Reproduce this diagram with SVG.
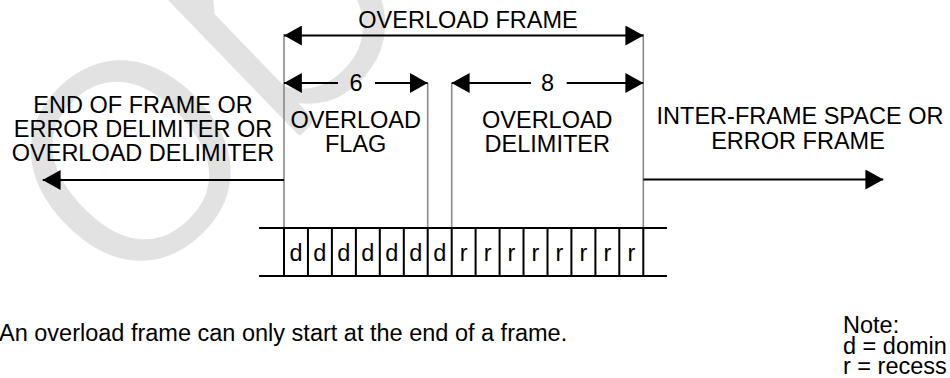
<svg xmlns="http://www.w3.org/2000/svg" width="950" height="378" viewBox="0 0 950 378">
<style>
.t{font-family:"Liberation Sans",Arial,sans-serif;font-size:23.5px;fill:#000}
.m{text-anchor:middle}
.wm{font-family:Lato,"Liberation Sans",sans-serif;font-weight:300;font-size:390px;fill:#e2e2e2;stroke:#e2e2e2;stroke-width:5;stroke-linejoin:round}
.g{stroke:#8a8a8a;stroke-width:1.6;fill:none}
.a{stroke:#000;stroke-width:2;fill:none}
.c{stroke:#000;stroke-width:2;fill:none}
</style>
<defs>
<marker id="ah" markerUnits="userSpaceOnUse" markerWidth="18" markerHeight="20" viewBox="0 0 17 19" refX="17" refY="9.5" orient="auto-start-reverse">
<path d="M0,0 L17,9.5 L0,19 z" fill="#000"/>
</marker>
</defs>
<rect width="950" height="378" fill="#fff"/>
<text class="wm" transform="translate(120,306) rotate(-44)" x="0" y="0">ob</text>

<g id="connectors">
<line class="g" x1="284" y1="34" x2="284" y2="228"/>
<line class="g" x1="427.7" y1="83" x2="427.7" y2="228"/>
<line class="g" x1="451.7" y1="83" x2="451.7" y2="228"/>
<line class="g" x1="643.3" y1="34" x2="643.3" y2="228"/>
<line class="a" x1="284" y1="35.5" x2="643.3" y2="35.5" marker-start="url(#ah)" marker-end="url(#ah)"/>
<line class="a" x1="284" y1="83" x2="338" y2="83" marker-start="url(#ah)"/>
<line class="a" x1="375" y1="83" x2="427.7" y2="83" marker-end="url(#ah)"/>
<line class="a" x1="451.7" y1="83" x2="531" y2="83" marker-start="url(#ah)"/>
<line class="a" x1="566.7" y1="83" x2="643.3" y2="83" marker-end="url(#ah)"/>
<line class="a" x1="284" y1="180" x2="42.7" y2="180" marker-end="url(#ah)"/>
<line class="a" x1="643.3" y1="179.5" x2="883.3" y2="179.5" marker-end="url(#ah)"/>
</g>

<g id="overload-frame">
<text class="t m" x="468" y="28">OVERLOAD FRAME</text>
</g>
<g id="count-6"><text class="t m" x="356" y="91">6</text></g>
<g id="count-8"><text class="t m" x="547.5" y="91">8</text></g>
<g id="overload-flag">
<text class="t m" x="355.7" y="128.3">OVERLOAD</text>
<text class="t m" x="355.7" y="152.3">FLAG</text>
</g>
<g id="overload-delimiter">
<text class="t m" x="547.3" y="128.3">OVERLOAD</text>
<text class="t m" x="547.3" y="152.3">DELIMITER</text>
</g>
<g id="previous">
<text class="t m" x="143" y="113.3">END OF FRAME OR</text>
<text class="t m" x="143" y="137">ERROR DELIMITER OR</text>
<text class="t m" x="143" y="160.7">OVERLOAD DELIMITER</text>
</g>
<g id="next">
<text class="t m" x="800" y="124">INTER-FRAME SPACE OR</text>
<text class="t m" x="798" y="149.3">ERROR FRAME</text>
</g>

<g id="bits">
<line class="c" x1="259" y1="228" x2="667" y2="228"/>
<line class="c" x1="259" y1="276" x2="667" y2="276"/>
<path class="c" d="M284,228V276M307.95,228V276M331.9,228V276M355.9,228V276M379.8,228V276M403.8,228V276M427.7,228V276M451.7,228V276M475.6,228V276M499.6,228V276M523.5,228V276M547.5,228V276M571.4,228V276M595.4,228V276M619.3,228V276M643.3,228V276"/>
<text class="t m" x="296" y="260.5">d</text>
<text class="t m" x="319.9" y="260.5">d</text>
<text class="t m" x="343.9" y="260.5">d</text>
<text class="t m" x="367.8" y="260.5">d</text>
<text class="t m" x="391.8" y="260.5">d</text>
<text class="t m" x="415.7" y="260.5">d</text>
<text class="t m" x="439.7" y="260.5">d</text>
<text class="t m" x="463.6" y="260.5">r</text>
<text class="t m" x="487.6" y="260.5">r</text>
<text class="t m" x="511.5" y="260.5">r</text>
<text class="t m" x="535.5" y="260.5">r</text>
<text class="t m" x="559.4" y="260.5">r</text>
<text class="t m" x="583.4" y="260.5">r</text>
<text class="t m" x="607.3" y="260.5">r</text>
<text class="t m" x="631.3" y="260.5">r</text>
</g>

<g id="caption">
<text class="t" x="-1" y="340.7">An overload frame can only start at the end of a frame.</text>
</g>
<g id="note">
<text class="t" x="843" y="333">Note:</text>
<text class="t" x="843" y="354">d = domin</text>
<text class="t" x="843" y="373.5">r = recess</text>
</g>
</svg>
